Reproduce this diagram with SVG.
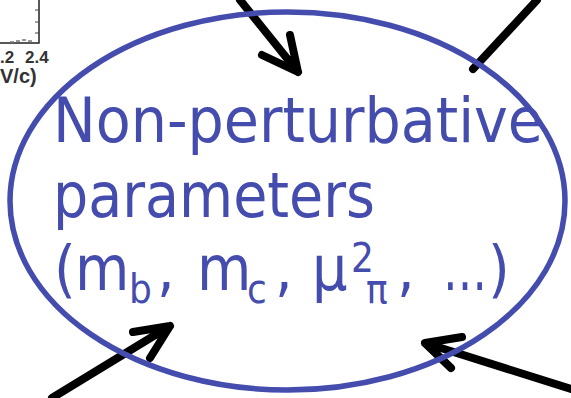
<svg xmlns="http://www.w3.org/2000/svg" width="571" height="398" viewBox="0 0 571 398">
<defs>
<style>
.lbl{font-family:"DejaVu Sans Condensed","DejaVu Sans",sans-serif;font-stretch:condensed;fill:#444CAE}
.big{font-size:62px}
.small{font-size:40px}
.ax{font-family:"Liberation Sans",Arial,sans-serif;font-weight:bold;fill:#333}
.arr{fill:none;stroke:#000;stroke-width:8;stroke-linecap:round;stroke-linejoin:round}
</style>
</defs>
<rect width="571" height="398" fill="#fff"/>
<g id="plot-fragment">
<path d="M0 43H39V0" fill="none" stroke="#222" stroke-width="1.5"/>
<path d="M35 10H39M35 22H39M35 33H39" stroke="#444" stroke-width="1"/>
<path d="M10 42H14M16 41H20M22 40H26M28 41H32" stroke="#777" stroke-width="1.5"/>
<text class="ax" x="0" y="63" font-size="17">.2</text>
<text class="ax" x="25" y="63" font-size="17">2.4</text>
<text class="ax" x="0" y="83" font-size="20">V/c)</text>
</g>
<g id="connectors">
<path class="arr" d="M240 0L298 72M262 55L298 72L290 35"/>
<path class="arr" d="M537 0L473 69" stroke-linecap="butt"/>
<path class="arr" d="M52 398L170 326M133 332L170 326L150 358"/>
<path class="arr" d="M571 389L425 343M462 337L425 343L451 368"/>
</g>
<g id="node-nonperturbative">
<ellipse cx="287.5" cy="201" rx="277.5" ry="189" fill="none" stroke="#444CAE" stroke-width="5.5"/>
<text class="lbl big" x="53" y="142" textLength="490" lengthAdjust="spacingAndGlyphs">Non-perturbative</text>
<text class="lbl big" x="53" y="217" textLength="322" lengthAdjust="spacingAndGlyphs">parameters</text>
<text class="lbl big" y="290"><tspan x="54">(</tspan><tspan x="75">m</tspan><tspan class="small" x="129" y="303">b</tspan><tspan x="157" y="290">,</tspan><tspan x="197">m</tspan><tspan class="small" x="247" y="303">c</tspan><tspan x="275" y="290">,</tspan><tspan x="312">μ</tspan><tspan class="small" x="351" y="272">2</tspan><tspan class="small" x="366" y="303">π</tspan><tspan x="397" y="290">,</tspan><tspan x="443" textLength="44" lengthAdjust="spacingAndGlyphs">…</tspan><tspan x="488">)</tspan></text>
</g>
</svg>
